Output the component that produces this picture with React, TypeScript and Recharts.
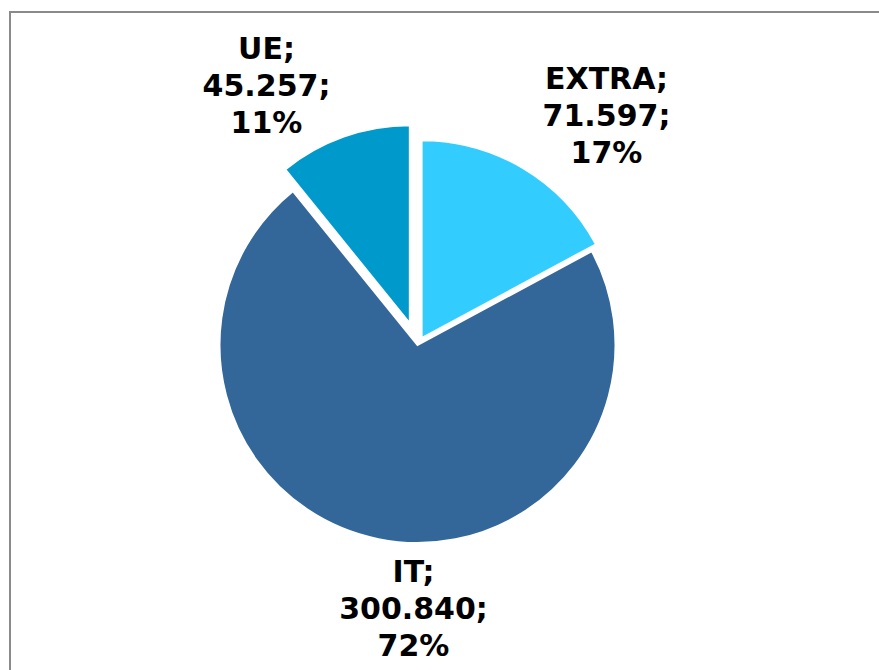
import { PieChart, Pie, Cell } from 'recharts'

const categories = ['EXTRA', 'IT', 'UE']
const values = [71597, 300840, 45257]
const colors = ['#33CCFF', '#336699', '#0099CC']

// how far each slice is pulled out of the pie
const explode = [8, 0, 23]
// label block centre, relative to the pie centre
const labelOffsets = [
  [189, -230],
  [-4, 263],
  [-151, -260],
]

const CX = 417.5
const CY = 345
const R = 198

const data = categories.map((name, i) => ({ name, value: values[i] }))
const total = values.reduce((a, b) => a + b, 0)

const fmt = (v: number) => String(v).replace(/\B(?=(\d{3})+(?!\d))/g, '.')

function midAngle(i: number) {
  const before = values.slice(0, i).reduce((a, b) => a + b, 0)
  return 90 - (360 * (before + values[i] / 2)) / total
}

function renderLabel(k: number) {
  return (props: any) => {
    if (props.index !== k) return null
    const [dx, dy] = labelOffsets[k]
    const x = CX + dx
    const base = CY + dy + 11
    const pct = Math.round((values[k] / total) * 100)
    const lines = [`${categories[k]};`, `${fmt(values[k])};`, `${pct}%`]
    return (
      <text
        x={x}
        y={base - 37}
        textAnchor="middle"
        fill="#000"
        style={{ fontFamily: '"DejaVu Sans", Verdana, sans-serif', fontWeight: 'bold', fontSize: 30 }}
      >
        {lines.map((l, j) => (
          <tspan key={j} x={x} dy={j === 0 ? 0 : 37}>
            {l}
          </tspan>
        ))}
      </text>
    )
  }
}

export default function App() {
  return (
    <div style={{ position: 'absolute', left: 0, top: 0, width: 879, height: 670, background: '#fff', overflow: 'hidden' }}>
      <div
        style={{
          position: 'absolute',
          left: 9,
          top: 11,
          width: 880,
          height: 670,
          borderTop: '2px solid #8a8a8a',
          borderLeft: '2px solid #8a8a8a',
        }}
      />
      <div style={{ position: 'absolute', left: 0, top: 0 }}>
        <PieChart width={879} height={670} margin={{ top: 0, right: 0, bottom: 0, left: 0 }}>
          {categories.map((_, k) => {
            const a = (midAngle(k) * Math.PI) / 180
            return (
              <Pie
                key={k}
                data={data}
                dataKey="value"
                nameKey="name"
                cx={CX + explode[k] * Math.cos(a)}
                cy={CY - explode[k] * Math.sin(a)}
                outerRadius={R}
                startAngle={90}
                endAngle={-270}
                isAnimationActive={false}
                labelLine={false}
                label={renderLabel(k)}
              >
                {data.map((d, i) => (
                  <Cell
                    key={d.name}
                    fill={i === k ? colors[i] : 'none'}
                    stroke={i === k ? '#fff' : 'none'}
                    strokeWidth={2}
                  />
                ))}
              </Pie>
            )
          })}
        </PieChart>
      </div>
    </div>
  )
}
